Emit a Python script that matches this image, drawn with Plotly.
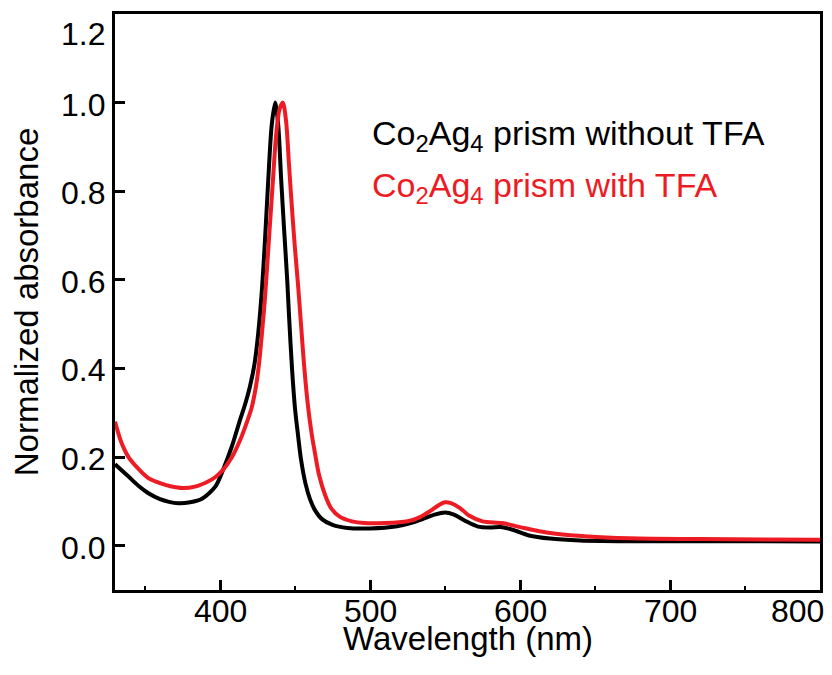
import plotly.graph_objects as go

# Wavelength (nm) and normalized absorbance, Co2Ag4 prism without TFA
wl_no_tfa = [330, 339, 346, 352, 360, 366, 372, 380, 388, 397, 402, 408, 413, 417,
             420, 423, 425.5, 428, 430, 432, 434.5, 436.8, 438.8, 440.8, 442.8, 444.8,
             446, 448, 450, 452, 454, 457, 460, 463, 468, 475, 485, 500, 518, 527, 535,
             543, 550, 556, 563, 572, 580, 587, 595, 606, 620, 640, 680, 740, 800]
abs_no_tfa = [0.184, 0.156, 0.134, 0.119, 0.105, 0.099, 0.096, 0.098, 0.106, 0.134,
              0.171, 0.225, 0.28, 0.322, 0.36, 0.41, 0.48, 0.58, 0.69, 0.815, 0.95,
              1.0, 0.95, 0.825, 0.71, 0.60, 0.52, 0.40, 0.31, 0.25, 0.195, 0.14, 0.105,
              0.082, 0.06, 0.047, 0.040, 0.039, 0.044, 0.051, 0.060, 0.070, 0.075,
              0.070, 0.057, 0.043, 0.041, 0.042, 0.036, 0.023, 0.016, 0.012, 0.010,
              0.0098, 0.0097]

# Wavelength (nm) and normalized absorbance, Co2Ag4 prism with TFA
wl_tfa = [330, 334, 339, 346, 352, 360, 367, 375, 384, 392, 397, 402, 408, 413, 417,
          421, 424, 426, 428, 430, 432, 434, 435.3, 437.5, 439.7, 441.9, 444, 446,
          448, 450, 452, 454, 456, 458.5, 461, 463, 466, 470, 474, 480, 488, 496, 510,
          525, 533, 540, 546, 550, 554, 560, 566, 575, 588, 600, 612, 624, 645, 673,
          720, 800]
abs_tfa = [0.28, 0.235, 0.20, 0.172, 0.153, 0.141, 0.134, 0.130, 0.134, 0.145, 0.155,
           0.171, 0.20, 0.235, 0.27, 0.31, 0.36, 0.41, 0.48, 0.56, 0.66, 0.76, 0.825,
           0.93, 0.985, 1.0, 0.96, 0.86, 0.76, 0.67, 0.59, 0.50, 0.41, 0.32, 0.255,
           0.215, 0.16, 0.115, 0.085, 0.065, 0.055, 0.051, 0.051, 0.055, 0.064, 0.078,
           0.092, 0.098, 0.096, 0.085, 0.068, 0.055, 0.051, 0.042, 0.033, 0.027,
           0.021, 0.017, 0.015, 0.0135]

x_ticks = [400, 500, 600, 700, 800]
x_tick_text = ["400", "500", "600", "700", "800"]
y_ticks = [0.0, 0.2, 0.4, 0.6, 0.8, 1.0, 1.2]
y_tick_text = ["0.0", "0.2", "0.4", "0.6", "0.8", "1.0", "1.2"]

labels = ["Co<sub>2</sub>Ag<sub>4</sub> prism without TFA",
          "Co<sub>2</sub>Ag<sub>4</sub> prism with TFA"]
x_title = "Wavelength (nm)"
y_title = "Normalized absorbance"

BLACK = "#000000"
RED = "#ED1C24"
FONT = "Liberation Sans, Arial, sans-serif"
TICK_FONT = dict(family=FONT, size=32, color=BLACK)

fig = go.Figure()
fig.add_trace(go.Scatter(x=wl_no_tfa, y=abs_no_tfa, mode="lines",
                         line=dict(color=BLACK, width=4, shape="spline", smoothing=0.8),
                         name=labels[0]))
fig.add_trace(go.Scatter(x=wl_tfa, y=abs_tfa, mode="lines",
                         line=dict(color=RED, width=4, shape="spline", smoothing=0.8),
                         name=labels[1]))

# text legend placed inside the plot area
fig.add_annotation(x=500, y=0.926, xref="x", yref="y", text=labels[0],
                   showarrow=False, xanchor="left", yanchor="middle",
                   font=dict(family=FONT, size=34, color=BLACK))
fig.add_annotation(x=500, y=0.809, xref="x", yref="y", text=labels[1],
                   showarrow=False, xanchor="left", yanchor="middle",
                   font=dict(family=FONT, size=34, color=RED))

# tick labels set close to the axes; the end labels are pulled inward
for i, (v, t) in enumerate(zip(x_ticks, x_tick_text)):
    last = i == len(x_ticks) - 1
    fig.add_annotation(x=v, y=0, xref="x", yref="paper", text=t, showarrow=False,
                       xanchor="right" if last else "center", yanchor="top",
                       xshift=6 if last else 0, yshift=-1, font=TICK_FONT)
for i, (v, t) in enumerate(zip(y_ticks, y_tick_text)):
    last = i == len(y_ticks) - 1
    fig.add_annotation(x=0, y=v, xref="paper", yref="y", text=t, showarrow=False,
                       xanchor="right", yanchor="middle", xshift=-8,
                       yshift=-20 if last else -2, font=TICK_FONT)

# x-axis title right under the tick labels
fig.add_annotation(x=0.5, y=-0.049, xref="paper", yref="paper", text=x_title,
                   showarrow=False, xanchor="center", yanchor="top",
                   font=dict(family=FONT, size=33, color=BLACK))

axis_common = dict(showline=True, linecolor=BLACK, linewidth=3, mirror=True,
                   showgrid=False, zeroline=False, ticks="inside", tickcolor=BLACK,
                   tickwidth=3, ticklen=10, showticklabels=False)

fig.update_xaxes(range=[330, 800], tickvals=x_ticks,
                 minor=dict(ticks="inside", dtick=50, tick0=350, ticklen=4,
                            tickwidth=2, tickcolor=BLACK, showgrid=False),
                 **axis_common)
fig.update_yaxes(range=[-0.1, 1.2], tickvals=y_ticks,
                 title=dict(text=y_title, standoff=64,
                            font=dict(family=FONT, size=33, color=BLACK)),
                 **axis_common)

fig.update_layout(width=832, height=675, showlegend=False,
                  margin=dict(l=115, r=9, t=14, b=85),
                  plot_bgcolor="white", paper_bgcolor="white")

fig.write_html("out.html")
